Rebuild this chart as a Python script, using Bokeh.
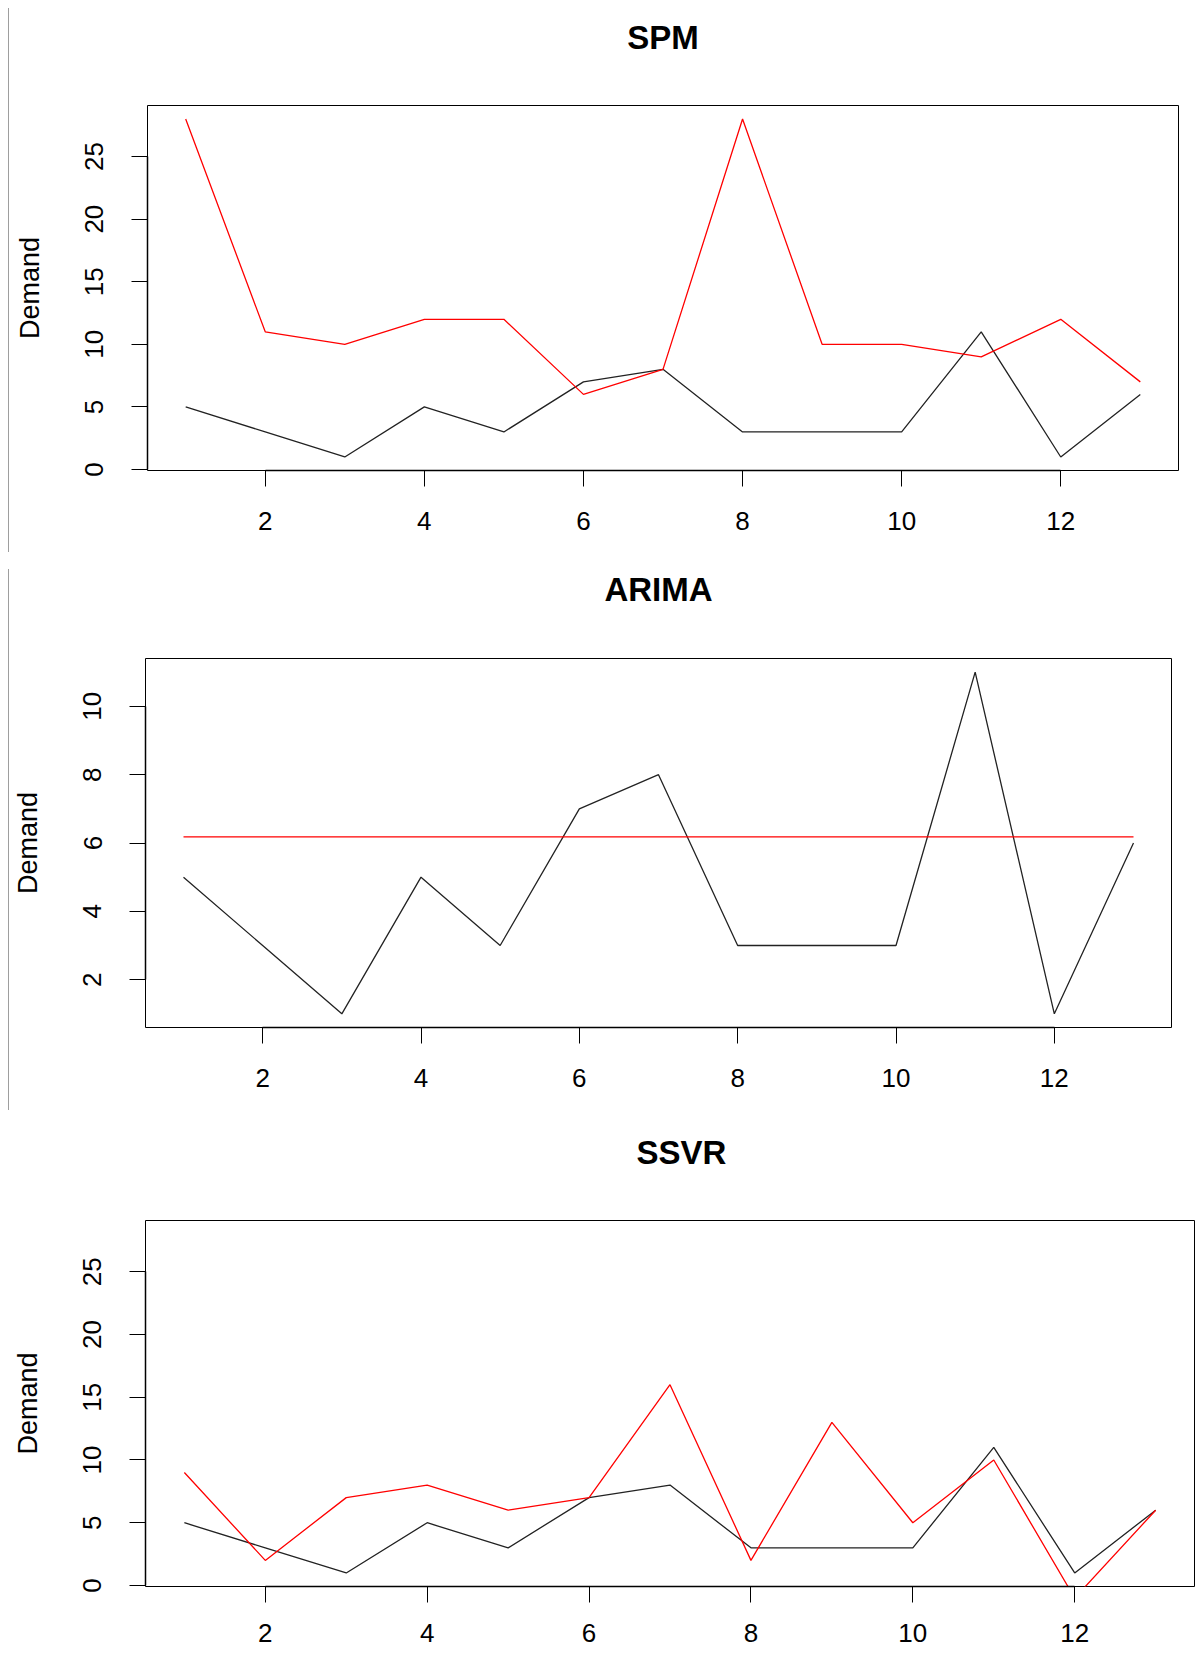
from bokeh.plotting import figure
from bokeh.layouts import column
from bokeh.models import Range1d, FixedTicker, Title
from bokeh.embed import file_html
from bokeh.resources import INLINE

# ---- data ----
periods = [1, 2, 3, 4, 5, 6, 7, 8, 9, 10, 11, 12, 13]
actual = [5, 3, 1, 5, 3, 7, 8, 3, 3, 3, 11, 1, 6]
spm_forecast = [28, 11, 10, 12, 12, 6, 8, 28, 10, 10, 9, 12, 7]
arima_forecast = [6.18, 6.18, 6.18, 6.18, 6.18, 6.18, 6.18, 6.18, 6.18, 6.18, 6.18, 6.18, 6.18]
ssvr_forecast = [9, 2, 7, 8, 6, 7, 16, 2, 13, 5, 10, -1, 6]

x_ticks = [2, 4, 6, 8, 10, 12]
y_ticks_wide = [0, 5, 10, 15, 20, 25]
y_ticks_arima = [2, 4, 6, 8, 10]
x_limits = (0.52, 13.48)
y_limits_wide = (-0.08, 29.08)
y_limits_arima = (0.6, 11.4)

FONT = "Liberation Sans"
FIG_W = 1200


def make_panel(title, forecast, y_limits, y_ticks, height, mb_left, mb_right,
               mb_top, mb_bottom, gap_standoff, title_align, title_offset,
               xlabel_standoff, grey_line=None):
    p = figure(width=FIG_W, height=height, output_backend="svg", toolbar_location=None,
               x_range=Range1d(*x_limits), y_range=Range1d(*y_limits),
               min_border_left=mb_left, min_border_right=mb_right,
               min_border_top=mb_top, min_border_bottom=mb_bottom, title=None)

    # spacer panel between the plot box and the main title
    p.add_layout(Title(text=" ", text_font=FONT, text_font_size="10px",
                       standoff=gap_standoff), "above")
    # main title
    p.add_layout(Title(text=title, text_font=FONT, text_font_size="33px",
                       text_font_style="bold", text_color="black",
                       align=title_align, offset=title_offset,
                       vertical_align="bottom", standoff=0), "above")

    p.xgrid.visible = False
    p.ygrid.visible = False
    p.outline_line_color = "black"
    p.outline_line_width = 1
    p.outline_line_alpha = 1
    p.background_fill_color = "white"
    p.border_fill_color = None

    for ax in (p.xaxis[0], p.yaxis[0]):
        ax.minor_tick_line_color = None
        ax.major_tick_in = 0
        ax.major_tick_out = 16
        ax.major_tick_line_color = "black"
        ax.axis_line_color = "black"
        ax.axis_line_width = 1.5
        ax.major_label_text_font = FONT
        ax.major_label_text_font_size = "26px"
        ax.major_label_text_color = "black"

    p.xaxis.ticker = FixedTicker(ticks=x_ticks)
    p.xaxis.bounds = (x_ticks[0], x_ticks[-1])
    p.xaxis.major_label_standoff = xlabel_standoff

    p.yaxis.ticker = FixedTicker(ticks=y_ticks)
    p.yaxis.bounds = (y_ticks[0], y_ticks[-1])
    p.yaxis.major_label_orientation = "parallel"
    p.yaxis.major_label_standoff = 28
    p.yaxis.axis_label = "Demand"
    p.yaxis.axis_label_text_font = FONT
    p.yaxis.axis_label_text_font_size = "27px"
    p.yaxis.axis_label_text_font_style = "normal"
    p.yaxis.axis_label_text_color = "black"
    p.yaxis.axis_label_standoff = 38

    p.line(periods, actual, line_color="#222222", line_width=1.3)
    p.line(periods, forecast, line_color="#ff0000", line_width=1.3)

    style = {"background-color": "white"}
    if grey_line is not None:
        top, length = grey_line
        style.update({
            "background-image": "linear-gradient(#9e9e9e, #9e9e9e)",
            "background-size": f"1px {length}px",
            "background-position": f"8px {top}px",
            "background-repeat": "no-repeat",
        })
    p.styles = style
    return p


p1 = make_panel("SPM", spm_forecast, y_limits_wide, y_ticks_wide, 560,
                147, 22, 105, 90, 37, "center", 0, 25, grey_line=(8, 544))
p2 = make_panel("ARIMA", arima_forecast, y_limits_arima, y_ticks_arima, 550,
                145, 29, 98, 83, 38, "center", 0, 25, grey_line=(9, 541))
p3 = make_panel("SSVR", ssvr_forecast, y_limits_wide, y_ticks_wide, 544,
                145, 6, 110, 68, 37, "left", 491, 21)

roots = [column(p1), column(p2), column(p3)]

with open("out.html", "w") as f:
    f.write(file_html(roots, INLINE))
